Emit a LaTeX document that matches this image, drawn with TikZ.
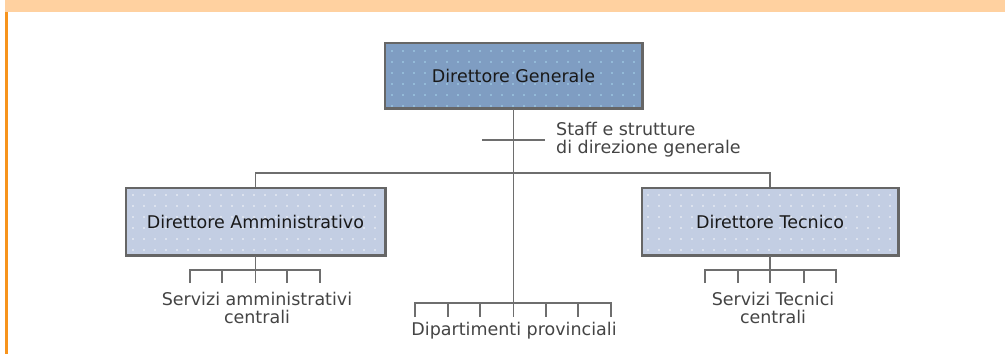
\documentclass[tikz,border=0pt]{standalone}
\usepackage{fontspec}
\setmainfont{DejaVu Sans}
\definecolor{bandorange}{HTML}{FFD1A0}
\definecolor{edgeorange}{HTML}{F7941D}
\definecolor{topfill}{HTML}{7F9DC2}
\definecolor{subfill}{HTML}{C3CEE3}
\definecolor{topdot}{HTML}{A8D8F0}
\definecolor{linegray}{HTML}{6E6E6E}
\definecolor{boxedge}{HTML}{666666}
\definecolor{labelgray}{HTML}{444444}
\tikzset{
  orgbox/.style={draw=boxedge, line width=1.5pt, inner sep=0pt},
  boxtext/.style={font=\fontsize{17.5}{18}\selectfont, text=black!90},
  lbl/.style={font=\fontsize{17.5}{18}\selectfont, text=labelgray, align=center, inner sep=0pt},
  conn/.style={draw=linegray, line width=1.5pt},
}
\begin{document}
\begin{tikzpicture}[x=1pt,y=-1pt]
\useasboundingbox (0,0) rectangle (1005,354);
% header band and left rule
\fill[bandorange] (5,0) rectangle (1005,12);
\fill[edgeorange] (5,12) rectangle (8,354);

% boxes
\node[orgbox, fill=topfill, minimum width=257pt, minimum height=65pt] (dg) at (513.5,75.5) {};
\node[orgbox, fill=subfill, minimum width=259pt, minimum height=67pt] (da) at (255.5,221.5) {};
\node[orgbox, fill=subfill, minimum width=256pt, minimum height=67pt] (dt) at (770,221.5) {};

% dotted texture inside the boxes
\begin{scope}
  \clip (dg.north west) rectangle (dg.south east);
  \foreach \i in {0,...,22} \foreach \j in {0,...,5}
    \fill[topdot] (392+11*\i, 51+11*\j) circle (0.8);
\end{scope}
\begin{scope}
  \clip (da.north west) rectangle (da.south east);
  \foreach \i in {0,...,23} \foreach \j in {0,...,5}
    \fill[white!85!subfill] (133+11*\i, 195+11*\j) circle (0.8);
\end{scope}
\begin{scope}
  \clip (dt.north west) rectangle (dt.south east);
  \foreach \i in {0,...,23} \foreach \j in {0,...,5}
    \fill[white!85!subfill] (648+11*\i, 195+11*\j) circle (0.8);
\end{scope}
\draw[boxedge, line width=1.5pt] (dg.north west) rectangle (dg.south east);
\draw[boxedge, line width=1.5pt] (da.north west) rectangle (da.south east);
\draw[boxedge, line width=1.5pt] (dt.north west) rectangle (dt.south east);

\node[boxtext] at (dg.center) {Direttore Generale};
\node[boxtext] at (da.center) {Direttore Amministrativo};
\node[boxtext] at (dt.center) {Direttore Tecnico};

% main trunk and branch points
\coordinate (busL) at (255.5,173);
\coordinate (busR) at (770,173);
\coordinate (staffL) at (482,140);
\coordinate (staffR) at (545,140);
\coordinate (dep) at (513.5,303);

\draw[conn] (dg.south) -- (dep);
\draw[conn] (staffL) -- (staffR);
\draw[conn] (da.north) -- (busL) -- (busR) -- (dt.north);

% administrative services
\coordinate (saBus) at (255.5,270);
\draw[conn] (da.south) -- (saBus);
\draw[conn] (190,283) -- (190,270) -- (320,270) -- (320,283);
\foreach \x in {222,255.5,287} \draw[conn] (\x,270) -- (\x,283);

% technical services
\coordinate (stBus) at (770,270);
\draw[conn] (dt.south) -- (stBus);
\draw[conn] (705,283) -- (705,270) -- (836,270) -- (836,283);
\foreach \x in {738,770,804} \draw[conn] (\x,270) -- (\x,283);

% provincial departments
\draw[conn] (415,317) -- (415,303) -- (611,303) -- (611,317);
\foreach \x in {448,480,513.5,546,578} \draw[conn] (\x,303) -- (\x,317);

% labels
\node[lbl, anchor=west, align=left] (staff) at (556,140) {Staff e strutture\\di direzione generale};
\node[lbl] (sa) at (257,308) {Servizi amministrativi\\centrali};
\node[lbl] (st) at (773,308) {Servizi Tecnici\\centrali};
\node[lbl] (dp) at (514,331) {Dipartimenti provinciali};
\end{tikzpicture}
\end{document}
